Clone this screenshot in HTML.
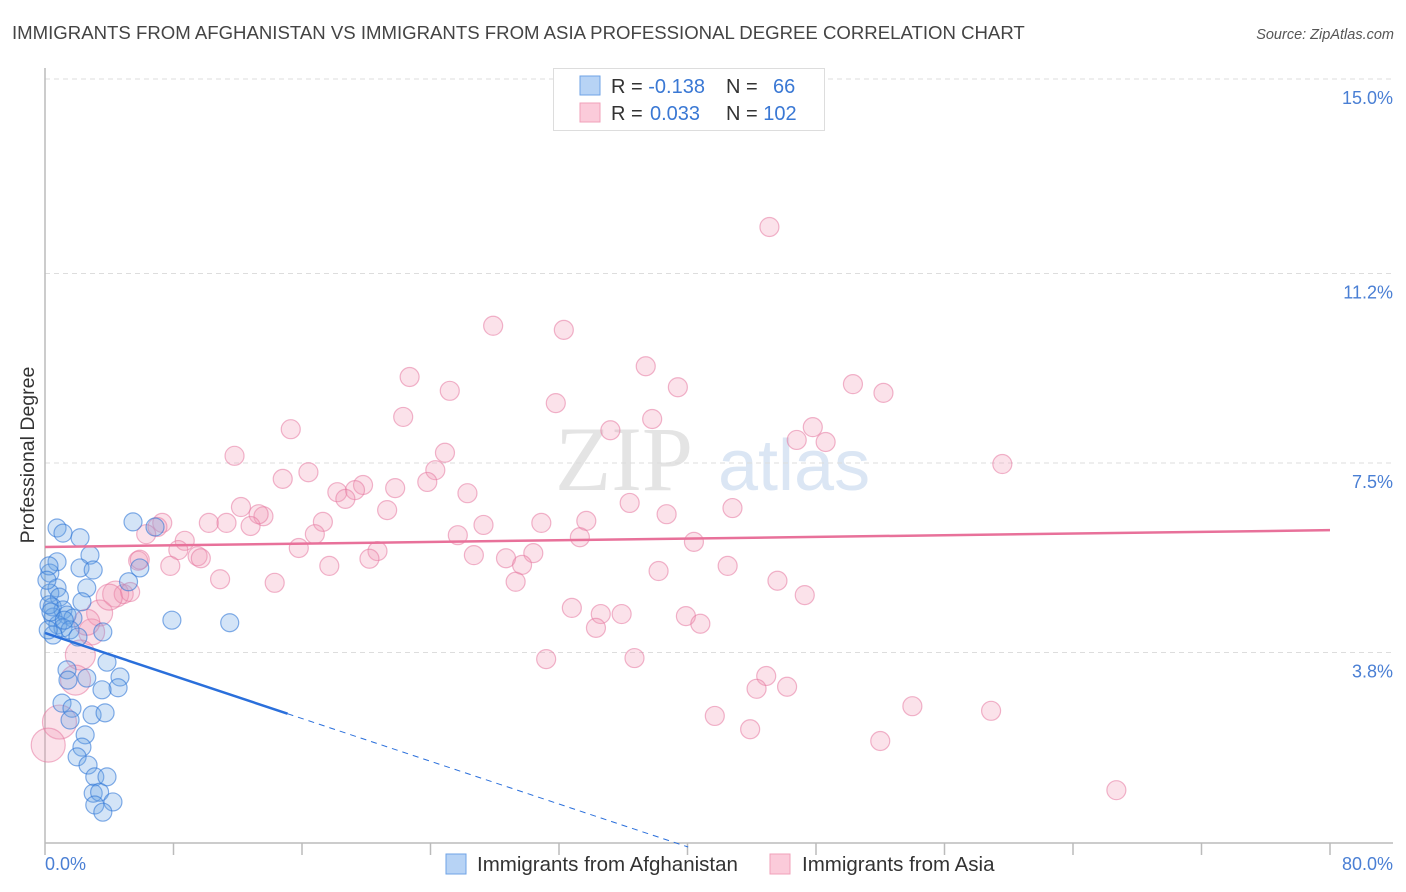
<!DOCTYPE html>
<html><head><meta charset="utf-8"><style>
body{margin:0;background:#fff;font-family:"Liberation Sans",sans-serif;}
svg{display:block}
</style></head><body>
<svg id="chart" width="1406" height="892" xmlns="http://www.w3.org/2000/svg" font-family="Liberation Sans, sans-serif">
<text x="12" y="39" font-size="18.6" fill="#444">IMMIGRANTS FROM AFGHANISTAN VS IMMIGRANTS FROM ASIA PROFESSIONAL DEGREE CORRELATION CHART</text>
<text x="1394" y="39" font-size="14.5" fill="#555" font-style="italic" text-anchor="end">Source: ZipAtlas.com</text>
<g>
<text x="555" y="490" font-size="92" font-family="Liberation Serif, serif" fill="#e4e4e4">ZIP</text>
<text x="718" y="490" font-size="72" fill="#dbe6f4">atlas</text>
</g>
<g id="grid"></g>
<g id="axes"></g>
<g id="marks"></g>
<g id="trends"></g>
<text transform="translate(34,455) rotate(-90)" font-size="19.5" fill="#333" text-anchor="middle">Professional Degree</text>
<g>
<rect x="553.5" y="68.5" width="271" height="62" fill="#fff" stroke="#ddd"/>
<rect x="580" y="76" width="20" height="19" fill="#b7d3f5" stroke="#6fa3e6"/>
<rect x="580" y="103" width="20" height="19" fill="#fbcbda" stroke="#f0a0ba"/>
<text x="611" y="93" font-size="20" fill="#333">R = <tspan fill="#3a78d4">-0.138</tspan></text>
<text x="726" y="93" font-size="20" fill="#333">N = <tspan fill="#3a78d4" x="773">66</tspan></text>
<text x="611" y="120" font-size="20" fill="#333">R = <tspan fill="#3a78d4" x="650">0.033</tspan></text>
<text x="726" y="120" font-size="20" fill="#333">N = <tspan fill="#3a78d4">102</tspan></text>
</g>
<g>
<rect x="446" y="854" width="20" height="20" fill="#b7d3f5" stroke="#6fa3e6"/>
<text x="477" y="871" font-size="20.5" fill="#333">Immigrants from Afghanistan</text>
<rect x="770" y="854" width="20" height="20" fill="#fbcbda" stroke="#f0a0ba"/>
<text x="802" y="871" font-size="20.5" fill="#333">Immigrants from Asia</text>
</g>
</svg>
<script>
const yTicks=[3.8,7.5,11.2,15.0];
const yTickLabels=["3.8%","7.5%","11.2%","15.0%"];
const xTickCount=10;
const xAxisLabels=["0.0%","80.0%"];
const afgX=[0.75,1.12,2.18,5.48,6.85,2.8,0.75,2.18,3.0,0.3,5.9,2.6,5.2,0.75,0.3,0.9,2.3,0.45,1.12,0.5,1.37,1.74,0.8,1.12,1.56,0.5,3.6,7.9,11.5,2.05,3.86,1.37,1.43,4.67,2.6,4.55,3.55,1.06,1.68,2.93,3.74,1.56,2.5,2.3,2.0,2.68,3.1,3.86,3.0,3.4,4.23,3.1,3.6,0.25,0.12,0.25,0.37,0.2,1.2];
const afgY=[6.23,6.13,6.04,6.35,6.25,5.70,5.57,5.45,5.41,5.35,5.45,5.06,5.18,5.06,4.96,4.88,4.79,4.69,4.63,4.49,4.53,4.47,4.34,4.28,4.24,4.14,4.20,4.43,4.38,4.10,3.61,3.46,3.26,3.32,3.30,3.11,3.07,2.81,2.71,2.58,2.62,2.48,2.19,1.95,1.76,1.60,1.37,1.37,1.05,1.07,0.88,0.82,0.68,5.49,5.21,4.73,4.59,4.24,4.43];
const asiaX=[45.1,27.9,32.3,37.4,22.7,39.4,25.2,50.3,52.2,31.8,22.3,37.8,15.3,35.2,47.8,46.8,48.6,11.8,24.9,59.6,16.4,14.8,24.3,23.8,18.2,19.8,21.8,19.3,26.3,18.7,36.4,12.2,21.3,13.6,13.3,42.8,38.7,7.3,7.0,10.2,11.3,17.3,27.3,30.9,33.7,12.8,6.3,8.7,16.8,25.7,33.3,15.8,40.4,8.3,9.5,9.7,20.7,26.7,30.4,28.7,20.2,5.8,7.8,29.7,17.7,42.5,38.2,10.9,14.3,29.3,45.6,4.4,4.9,5.3,47.3,32.8,34.6,35.9,3.4,39.9,40.8,34.3,2.9,2.6,31.2,36.7,2.2,44.9,1.9,44.3,46.2,54.0,58.9,41.7,0.9,43.9,52.0,0.2,66.7,5.9,4.0];
const asiaY=[12.11,10.18,10.10,9.39,9.18,8.98,8.91,9.04,8.87,8.67,8.40,8.36,8.16,8.14,8.20,7.95,7.91,7.64,7.70,7.48,7.32,7.19,7.36,7.13,6.93,7.07,7.01,6.97,6.91,6.80,6.72,6.64,6.58,6.46,6.50,6.62,6.50,6.33,6.25,6.33,6.33,6.35,6.29,6.33,6.37,6.27,6.11,5.98,6.11,6.09,6.05,5.84,5.96,5.80,5.68,5.64,5.78,5.70,5.74,5.64,5.63,5.59,5.49,5.51,5.49,5.49,5.39,5.23,5.16,5.18,5.20,4.94,4.94,4.98,4.92,4.67,4.55,4.55,4.57,4.51,4.36,4.28,4.20,4.39,3.67,3.69,3.75,3.34,3.26,3.09,3.13,2.75,2.66,2.56,2.44,2.30,2.07,1.99,1.11,5.61,4.88];
const afgTrend=[4.18,-0.1044];
const asiaTrend=[5.86,0.0041];
const afgTrendSolidEnd=15.1;

const NS="http://www.w3.org/2000/svg";
const X0=45,X1=1330,Y0=847,PXPER=51.2;
const sx=v=>X0+v*(X1-X0)/80;
const sy=v=>Y0-v*PXPER;
function mk(tag,attrs,parent){const e=document.createElementNS(NS,tag);for(const k in attrs)e.setAttribute(k,attrs[k]);parent.appendChild(e);return e;}
const grid=document.getElementById('grid'),axes=document.getElementById('axes'),marks=document.getElementById('marks'),trends=document.getElementById('trends');
yTicks.forEach((t,i)=>{
  const l=mk('line',{x1:45,x2:1393,y1:sy(t),y2:sy(t),stroke:'#ddd','stroke-dasharray':'5,4'},grid);
  
  
  const tx=mk('text',{x:1393,y:sy(t)+25,'font-size':18,fill:'#4a7fd4','text-anchor':'end'},axes);
  tx.textContent=yTickLabels[i];
  
  
});
const ya=mk('line',{x1:45,x2:45,y1:68,y2:843,stroke:'#bbb','stroke-width':1.5},axes);


const xa=mk('line',{x1:45,x2:1393,y1:843,y2:843,stroke:'#bbb','stroke-width':1.5},axes);


for(let i=0;i<=xTickCount;i++){
  const v=i*80/xTickCount;
  const t=mk('line',{x1:sx(v),x2:sx(v),y1:843,y2:855,stroke:'#bbb','stroke-width':1.5},axes);
  
  
}
const xl0=mk('text',{x:45,y:870,'font-size':18,fill:'#4a7fd4'},axes);xl0.textContent=xAxisLabels[0];


const xl1=mk('text',{x:1393,y:870,'font-size':18,fill:'#4a7fd4','text-anchor':'end'},axes);xl1.textContent=xAxisLabels[1];



asiaX.forEach((x,i)=>{
  const r=x<1?17:x<2.5?15:x<4.5?13:9.5;
  const c=mk('circle',{cx:sx(x),cy:sy(asiaY[i]),r:r,fill:'rgba(242,150,180,0.28)',stroke:'rgba(230,120,160,0.55)','stroke-width':1.2},marks);
  
  
});
afgX.forEach((x,i)=>{
  const c=mk('circle',{cx:sx(x),cy:sy(afgY[i]),r:9,fill:'rgba(110,165,230,0.3)',stroke:'rgba(50,120,215,0.6)','stroke-width':1.2},marks);
  
  
});
const at=v=>afgTrend[0]+afgTrend[1]*v;
const xEnd=-afgTrend[0]/afgTrend[1];
const l1=mk('line',{x1:sx(0),y1:sy(at(0)),x2:sx(afgTrendSolidEnd),y2:sy(at(afgTrendSolidEnd)),stroke:'#2a6fdb','stroke-width':2.5},trends);


const l2=mk('line',{x1:sx(afgTrendSolidEnd),y1:sy(at(afgTrendSolidEnd)),x2:sx(xEnd),y2:sy(0),stroke:'#2a6fdb','stroke-width':1,'stroke-dasharray':'6,5'},trends);


const pt=v=>asiaTrend[0]+asiaTrend[1]*v;
const l3=mk('line',{x1:sx(0),y1:sy(pt(0)),x2:sx(80),y2:sy(pt(80)),stroke:'#e8719a','stroke-width':2.5},trends);


</script>
</body></html>
